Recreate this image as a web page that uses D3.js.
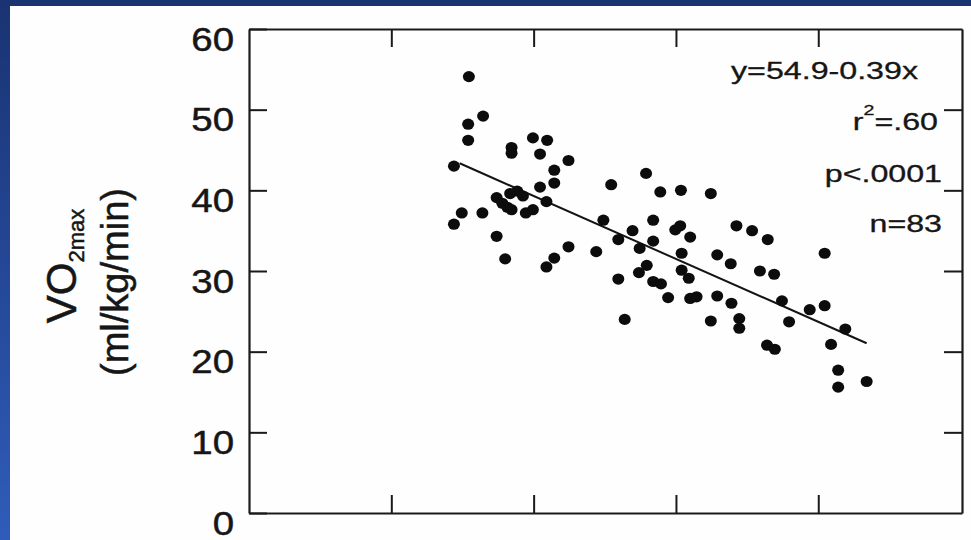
<!DOCTYPE html>
<html>
<head>
<meta charset="utf-8">
<script src="https://cdn.jsdelivr.net/npm/d3@7/dist/d3.min.js"></script>
<style>
  html, body { margin: 0; padding: 0; overflow: hidden; background: #1c3a78; }
  text { font-family: "Liberation Sans", Arial, sans-serif; fill: #161616; stroke: #161616; stroke-width: 0.5px; }
</style>
</head>
<body>
<div id="app"></div>
<script>
// age (x) and VO2max (y) for each subject
const ageX = [30.9, 32.9, 30.8, 30.8, 36.9, 36.9, 39.9, 41.9, 40.9, 44.9,
  28.8, 42.9, 42.9, 40.9, 50.9, 37.7, 38.5, 34.8, 36.7, 35.6,
  36.3, 36.9, 38.9, 39.9, 41.8, 29.9, 32.8, 28.8, 34.8, 49.8,
  51.9, 44.9, 36.0, 42.9, 48.8, 41.8, 55.8, 57.8, 60.7, 64.9,
  56.8, 60.6, 59.9, 68.5, 53.9, 62.0, 56.8, 54.9, 60.8, 65.8,
  67.7, 55.9, 54.8, 60.8, 61.8, 51.9, 56.8, 57.9, 58.9, 62.0,
  62.9, 65.8, 67.8, 52.8, 64.9, 68.9, 68.9, 70.7, 72.9, 80.9,
  71.8, 73.8, 74.9, 78.8, 80.9, 75.9, 83.8, 72.8, 73.9, 81.8,
  82.8, 82.8, 86.8];
const vo2Y = [54.1, 49.2, 48.2, 46.2, 45.3, 44.6, 46.5, 46.2, 44.5, 43.7,
  43.0, 42.5, 40.9, 40.4, 40.7, 39.9, 39.3, 39.1, 39.6, 38.4,
  37.9, 37.6, 37.2, 37.6, 38.6, 37.2, 37.2, 35.8, 34.3, 36.3,
  33.9, 33.0, 31.5, 31.6, 32.4, 30.5, 42.1, 39.8, 40.0, 39.6,
  36.3, 35.6, 35.1, 35.6, 35.0, 34.2, 33.7, 32.8, 32.2, 32.0,
  30.9, 30.7, 29.8, 30.1, 29.1, 29.0, 28.7, 28.4, 26.7, 26.6,
  26.8, 26.9, 26.0, 24.0, 23.8, 24.1, 22.9, 35.0, 33.9, 32.2,
  30.0, 29.6, 26.3, 25.2, 25.7, 23.7, 22.8, 20.8, 20.3, 20.9,
  17.7, 15.6, 16.3];

const yTicks = [0, 10, 20, 30, 40, 50, 60];
const xTicks = [20, 40, 60, 80];
const fitCoef = [54.9, -0.39];   // intercept, slope
const fitAges = [29.6, 86.8];
const statLines = ["y=54.9-0.39x", "r", "p<.0001", "n=83"];

const width = 971, height = 540;

const svg = d3.select("#app").append("svg")
  .attr("width", width)
  .attr("height", height)
  .style("display", "block");

// 背景：蓝色渐变 + 白色面板
const grad = svg.append("defs").append("linearGradient")
  .attr("id", "bg").attr("x1", 0).attr("y1", 0).attr("x2", 0).attr("y2", 1);
grad.append("stop").attr("offset", "0%").attr("stop-color", "#1a3372");
grad.append("stop").attr("offset", "100%").attr("stop-color", "#2f5cba");
svg.append("rect").attr("width", width).attr("height", height).attr("fill", "url(#bg)");
svg.append("rect").attr("x", 10).attr("y", 6).attr("width", width - 10).attr("height", height - 6)
  .attr("fill", "#fefefe");

const x = d3.scaleLinear().domain([0, 100.2]).range([249, 962]);
const y = d3.scaleLinear().domain([0, 60]).range([513, 29]);

const tickLen = 18;

// axes: ticks pointing inward on all four sides
const axes = [
  { gen: d3.axisLeft(y).tickValues(yTicks), tr: `translate(${x.range()[0]},0)`, labels: true },
  { gen: d3.axisRight(y).tickValues(yTicks.slice(1, -1)), tr: `translate(${x.range()[1]},0)` },
  { gen: d3.axisTop(x).tickValues(xTicks), tr: `translate(0,${y.range()[1]})` },
  { gen: d3.axisBottom(x).tickValues(xTicks), tr: `translate(0,${y.range()[0]})` }
];

axes.forEach(a => {
  const g = svg.append("g")
    .attr("transform", a.tr)
    .call(a.gen.tickSize(-tickLen).tickSizeOuter(0).tickPadding(16));
  g.select(".domain").attr("stroke", "#1a1a1a").attr("stroke-width", 2.2);
  g.selectAll(".tick line").attr("stroke", "#1a1a1a").attr("stroke-width", 2);
  if (a.labels) {
    g.selectAll(".tick text")
      .attr("x", null).attr("dy", null)
      .attr("transform", "translate(-15,21) scale(1.13,1)")
      .attr("text-anchor", "end")
      .style("font-size", "34px")
      .style("font-family", "'Liberation Sans', Arial, sans-serif")
      .attr("fill", "#161616");
  } else {
    g.selectAll(".tick text").remove();
  }
});

// y axis title
const title1 = svg.append("text")
  .attr("transform", "translate(76,266) rotate(-90)")
  .attr("text-anchor", "middle");
title1.append("tspan").text("VO").style("font-size", "42px");
title1.append("tspan").text("2max").attr("dy", 8).style("font-size", "22px");

svg.append("text")
  .attr("transform", "translate(128,282) rotate(-90)")
  .attr("text-anchor", "middle")
  .style("font-size", "38px")
  .text("(ml/kg/min)");

// regression line
const fitLine = d3.line()
  .x(d => x(d))
  .y(d => y(fitCoef[0] + fitCoef[1] * d));
svg.append("path")
  .datum(fitAges)
  .attr("d", fitLine)
  .attr("fill", "none")
  .attr("stroke", "#141414")
  .attr("stroke-width", 2);

// points
svg.append("g")
  .selectAll("ellipse")
  .data(d3.range(ageX.length))
  .join("ellipse")
  .attr("cx", i => x(ageX[i]))
  .attr("cy", i => y(vo2Y[i]))
  .attr("rx", 6)
  .attr("ry", 5.6)
  .attr("fill", "#0c0c0c");

// stats text, horizontally stretched like the slide
const statPos = [[918, 79], [938, 130], [942, 182], [942, 232]];
statLines.forEach((s, i) => {
  const g = svg.append("g")
    .attr("transform", `translate(${statPos[i][0]},${statPos[i][1]}) scale(1.4,1)`);
  const t = g.append("text").attr("text-anchor", "end").style("font-size", "23px")
    .style("stroke-width", "0.3px");
  if (s === "r") {
    t.append("tspan").text("r");
    t.append("tspan").text("2").attr("dy", -15).style("font-size", "14px");
    t.append("tspan").text("=.60").attr("dy", 15);
  } else {
    t.text(s);
  }
});
</script>
</body>
</html>
